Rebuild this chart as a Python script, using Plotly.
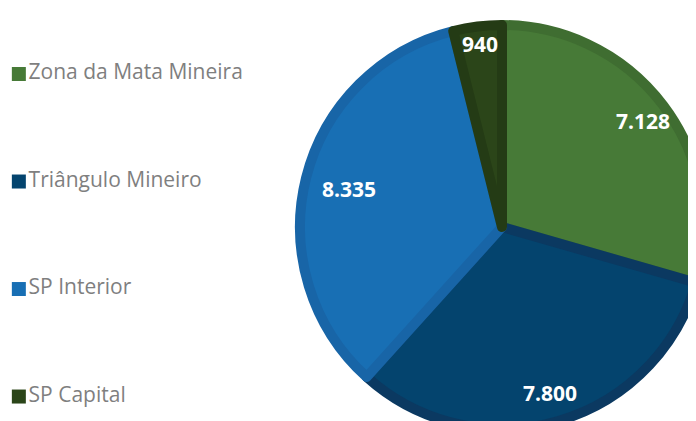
import math
import plotly.graph_objects as go

# data
regions = ['Zona da Mata Mineira', 'Triângulo Mineiro', 'SP Interior', 'SP Capital']
sales = [7128, 7800, 8335, 940]
fill_colors = ['#477a37', '#04446e', '#186fb4', '#2b4519']
edge_colors = ['#3f6d31', '#0b3961', '#1865a7', '#243b15']

# layout constants (pixels)
W, H = 696, 421
cx, cy, rad = 494, 219, 202          # pie centre / radius of the domain
edge_w = 10                          # bevel-like slice border
label_r = [176, 173, 158, 184]       # distance of each value label from the centre

fig = go.Figure()

fig.add_trace(go.Pie(
    labels=regions,
    values=sales,
    sort=False,
    direction='clockwise',
    rotation=0,
    marker=dict(colors=fill_colors, line=dict(color=edge_colors, width=edge_w)),
    textinfo='none',
    domain=dict(x=[(cx - rad) / W, 1], y=[0, 1 - (cy - rad) / H]),
    showlegend=False,
    hoverinfo='label+value+percent',
))

# value labels at the middle angle of each slice
total = sum(sales)
start = 0
for val, r in zip(sales, label_r):
    mid = (start + val / 2) / total * 2 * math.pi
    start += val
    px = cx + r * math.sin(mid)
    py = cy - r * math.cos(mid)
    fig.add_annotation(
        x=px / W, y=1 - py / H, xref='paper', yref='paper',
        xanchor='center', yanchor='middle',
        text='{:,}'.format(val).replace(',', '.'),
        showarrow=False,
        font=dict(family='Open Sans', size=21, color='white', weight='bold'),
    )

# legend as squares + labels on a hidden category axis
fig.add_trace(go.Scatter(
    x=[0] * len(regions),
    y=regions,
    mode='markers+text',
    marker=dict(symbol='square', size=14, color=fill_colors),
    text=regions,
    textposition='middle right',
    textfont=dict(family='Open Sans', size=21, color='#7f7f7f'),
    showlegend=False,
    hoverinfo='skip',
    cliponaxis=False,
))

fig.update_xaxes(domain=[0, 0.4], range=[-0.6, 14.8], visible=False, fixedrange=True)
fig.update_yaxes(domain=[0, 1], type='category', range=[3.302, -0.614],
                 visible=False, fixedrange=True)

fig.update_layout(
    width=W,
    height=H,
    margin=dict(l=0, r=0, t=0, b=0),
    paper_bgcolor='white',
    plot_bgcolor='white',
)

fig.write_html("out.html")
